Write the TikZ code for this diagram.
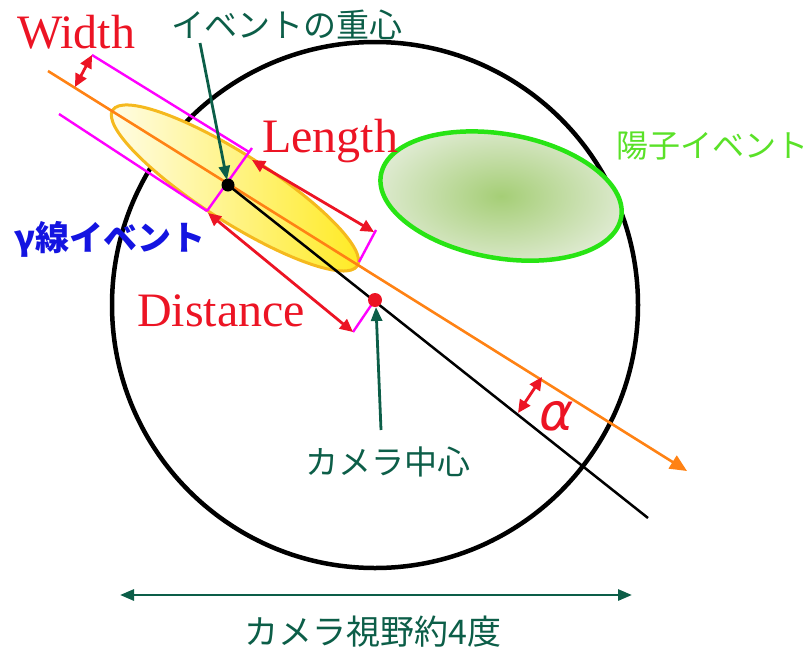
\documentclass[tikz,border=0pt]{standalone}
\usepackage{fontspec}
\setmainfont{Liberation Serif}
\newfontfamily\jpfont{Noto Sans CJK JP}
\newfontfamily\dvfont{DejaVu Sans}
\usetikzlibrary{arrows.meta}
\definecolor{myred}{RGB}{236,20,36}
\definecolor{tealc}{RGB}{12,94,72}
\definecolor{magc}{RGB}{255,0,255}
\definecolor{orngc}{RGB}{255,130,20}
\definecolor{goldc}{RGB}{245,185,30}
\definecolor{grnc}{RGB}{40,228,20}
\definecolor{grnin}{RGB}{165,206,118}
\definecolor{grnout}{RGB}{222,234,208}
\definecolor{bluc}{RGB}{20,20,225}
\definecolor{ptext}{RGB}{90,225,40}
\definecolor{ylight}{RGB}{255,253,236}
\definecolor{ydark}{RGB}{255,234,30}
\begin{document}
\begin{tikzpicture}[x=1pt,y=-1pt,
  redarr/.style={draw=myred, line width=2.8pt,
    arrows={Triangle[length=13pt,width=12pt]-Triangle[length=13pt,width=12pt]}},
  tealarr/.style={draw=tealc, line width=2.8pt, arrows={-Triangle[length=14pt,width=11pt]}},
  tealdbl/.style={draw=tealc, line width=2.8pt,
    arrows={Triangle[length=14pt,width=11pt]-Triangle[length=14pt,width=11pt]}},
  magline/.style={draw=magc, line width=2.4pt},
  bigtxt/.style={anchor=base west, inner sep=0, text=myred, font=\fontsize{48}{50}\selectfont},
  jptxt/.style={inner sep=0, font=\jpfont\fontsize{33}{36}\selectfont}]
\useasboundingbox (0,0) rectangle (809,648);

% coordinates
\coordinate (O0) at (48,71);
\coordinate (O1) at (687,471);
\coordinate (C) at (228,185);
\coordinate (P) at (375,300);
\coordinate (E) at (648,518);
\coordinate (Y) at (235,188);
\coordinate (G) at (501,196);
\coordinate (Wa) at (92,55);
\coordinate (Wb) at (75,87);
\coordinate (M1s) at (92,55);
\coordinate (M1e) at (249,152);
\coordinate (M2s) at (59,114);
\coordinate (T1) at (252,148);
\coordinate (T2) at (207,211);
\coordinate (La) at (252,160);
\coordinate (Lb) at (374,232);
\coordinate (R1) at (376,230);
\coordinate (R2) at (359,262);
\coordinate (Da) at (208,213);
\coordinate (Db) at (353,332);
\coordinate (Dt) at (372,304);
\coordinate (Aa) at (542,377);
\coordinate (Ab) at (518,413);
\coordinate (Es) at (200,43);
\coordinate (Ee) at (227,180);
\coordinate (Cs) at (381,430);
\coordinate (Ce) at (376,307);
\coordinate (Fl) at (120,595);
\coordinate (Fr) at (632,595);

% camera circle
\draw[line width=4.5pt] (375,305) circle[radius=263];

% gamma event ellipse
\path[rotate around={-32.5:(Y)}, left color=ylight, right color=ydark,
      draw=goldc, line width=3pt] (Y) ellipse[x radius=145, y radius=34];

% proton event ellipse
\path[rotate around={-10:(G)}, inner color=grnin, outer color=grnout,
      draw=grnc, line width=4.5pt] (G) ellipse[x radius=122, y radius=62];

% axes
\draw[draw=orngc, line width=2.6pt, arrows={-Triangle[length=17pt,width=15pt]}] (O0) -- (O1);
\draw[line width=2.5pt] (C) -- (E);

% magenta guides
\draw[magline] (M1s) -- (M1e);
\draw[magline] (M2s) -- (T2);
\draw[magline] (T1) -- (T2);
\draw[magline] (R1) -- (R2);
\draw[magline] (Db) -- (Dt);

% red dimension arrows
\draw[redarr] (Wa) -- (Wb);
\draw[redarr] (La) -- (Lb);
\draw[redarr] (Da) -- (Db);
\draw[redarr] (Aa) -- (Ab);

% dots
\fill[black] (C) circle[radius=6.5];
\fill[myred] (P) circle[radius=7];

% pointers
\draw[tealarr] (Es) -- (Ee);
\draw[tealarr] (Cs) -- (Ce);
\draw[tealdbl] (Fl) -- (Fr);

% labels
\node[bigtxt] (width) at (17,48) {Width};
\node[bigtxt] (length) at (262,152) {Length};
\node[bigtxt] (dist) at (137,326) {Distance};
\node[inner sep=0, text=myred, font=\dvfont\itshape\fontsize{52}{52}\selectfont] (alpha) at (557,416) {α};
\node[jptxt, text=tealc] (cent) at (287,25) {イベントの重心};
\node[jptxt, text=bluc, font=\jpfont\bfseries\fontsize{34}{36}\selectfont] (gam) at (110,239) {γ線イベント};
\node[jptxt, text=ptext, font=\jpfont\fontsize{32}{36}\selectfont] (prot) at (712,146) {陽子イベント};
\node[jptxt, text=tealc] (camc) at (388,462) {カメラ中心};
\node[jptxt, text=tealc, font=\jpfont\fontsize{34}{36}\selectfont] (fov) at (373,632) {カメラ視野約4度};
\end{tikzpicture}
\end{document}
